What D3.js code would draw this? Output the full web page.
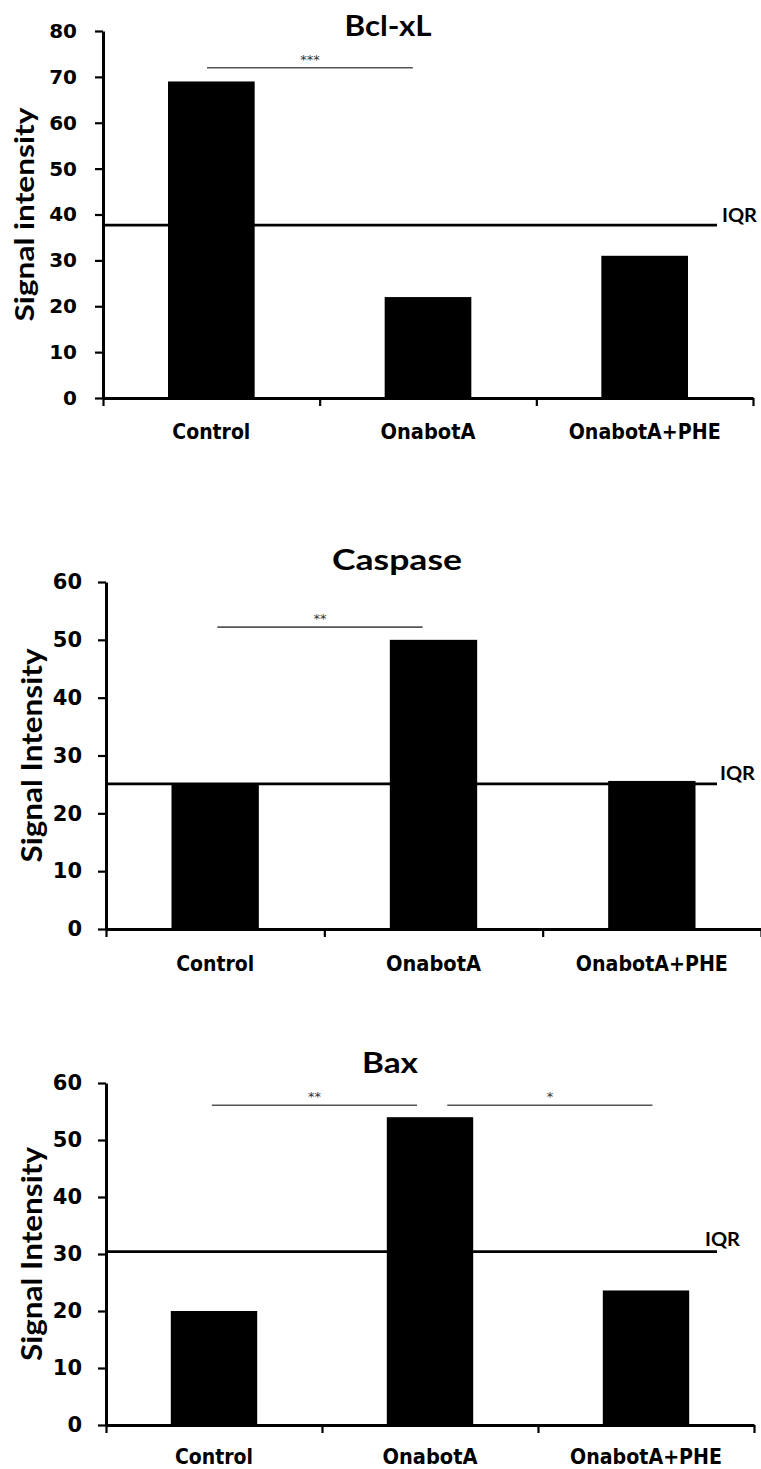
<!DOCTYPE html>
<html>
<head>
<meta charset="utf-8">
<script src="https://cdn.jsdelivr.net/npm/d3@7"></script>
<style>
  html, body { margin: 0; padding: 0; background: #fff; }
  svg { display: block; }
</style>
</head>
<body>
<svg id="fig" width="761" height="1469"></svg>
<script>
// ---- data ----
const categories = ["Control", "OnabotA", "OnabotA+PHE"];
const titles = ["Bcl-xL", "Caspase", "Bax"];
const yLabels = ["Signal intensity", "Signal Intensity", "Signal Intensity"];
const bclValues = [69, 22, 31];
const caspaseValues = [25.2, 50, 25.6];
const baxValues = [20, 54, 23.6];
const iqrValues = [37.7, 25.1, 30.4];
const yMaxes = [80, 60, 60];
const yTicksBcl = [0, 10, 20, 30, 40, 50, 60, 70, 80];
const yTicksCasp = [0, 10, 20, 30, 40, 50, 60];
const yTicksBax = [0, 10, 20, 30, 40, 50, 60];
// significance brackets: [fromIndex, toIndex, level, label]
const sigBcl = [[-0.02, 0.93, 72, "***"]];
const sigCasp = [[0.01, 0.95, 52.2, "**"]];
const sigBax = [[-0.01, 0.94, 56.1, "**"], [1.08, 2.03, 56.1, "*"]];

// ---- layout (pixel frames) ----
const panels = [
  { values: bclValues, ticks: yTicksBcl, sig: sigBcl, x0: 103, x1: 753, yTop: 31, yBot: 398,
    titleY: 36, titleLen: 87, titleX: 388, ylabX: 34, ylabFs: 26, tickPad: 18, xlabOff: 41,
    iqrDx: 5, iqrDy: -3, tickFs: 20 },
  { values: caspaseValues, ticks: yTicksCasp, sig: sigCasp, x0: 106, x1: 761, yTop: 582, yBot: 929,
    titleY: 570, titleLen: 130, titleX: 397, ylabX: 42, ylabFs: 28, tickPad: 16, xlabOff: 42,
    iqrDx: 3, iqrDy: -4, tickFs: 21 },
  { values: baxValues, ticks: yTicksBax, sig: sigBax, x0: 106, x1: 754, yTop: 1083, yBot: 1425,
    titleY: 1073, titleLen: 56, titleX: 390, ylabX: 42, ylabFs: 28, tickPad: 16, xlabOff: 39,
    iqrDx: -12, iqrDy: -6, tickFs: 21 }
];
const iqrLineEnd = 717;
const xLabelLens = [78, 95, 152];

const svg = d3.select("#fig");
const calibri = "Lato, 'Open Sans', sans-serif";
const verdana = "'DejaVu Sans', Verdana, sans-serif";

panels.forEach((p, k) => {
  const g = svg.append("g");
  const x = d3.scaleBand().domain(categories).range([p.x0, p.x1])
    .paddingInner(0.6).paddingOuter(0.3);
  const xi = d3.scaleLinear().domain([-0.5, categories.length - 0.5]).range([p.x0, p.x1]);
  const y = d3.scaleLinear().domain([0, yMaxes[k]]).range([p.yBot, p.yTop]);

  // bars
  g.selectAll("rect.bar").data(p.values).enter().append("rect")
    .attr("class", "bar")
    .attr("x", (d, i) => x(categories[i]))
    .attr("width", x.bandwidth())
    .attr("y", d => y(d))
    .attr("height", d => y(0) - y(d))
    .attr("fill", "#000");

  // IQR line
  g.append("line")
    .attr("x1", p.x0).attr("x2", iqrLineEnd)
    .attr("y1", y(iqrValues[k])).attr("y2", y(iqrValues[k]))
    .attr("stroke", "#000").attr("stroke-width", 2.8);
  g.append("text")
    .attr("x", iqrLineEnd + p.iqrDx).attr("y", y(iqrValues[k]) + p.iqrDy)
    .attr("font-family", calibri).attr("font-weight", 700).attr("font-size", 18)
    .attr("textLength", 35).attr("lengthAdjust", "spacingAndGlyphs")
    .attr("fill", "#000").text("IQR");

  // y axis
  const yAxis = d3.axisLeft(y).tickValues(p.ticks).tickSizeInner(8).tickSizeOuter(0)
    .tickPadding(p.tickPad).tickFormat(d3.format("d"));
  const ya = g.append("g").attr("transform", `translate(${p.x0},0)`).call(yAxis);
  ya.attr("font-size", null).attr("font-family", null);
  ya.select(".domain").attr("stroke", "#000").attr("stroke-width", 3);
  ya.selectAll(".tick line").attr("stroke", "#000").attr("stroke-width", 2.2);
  ya.selectAll(".tick text")
    .style("font-family", verdana).style("font-weight", "700")
    .style("font-size", p.tickFs + "px").attr("fill", "#000");

  // x axis (boundary ticks)
  const xb = d3.scaleLinear().domain([0, categories.length]).range([p.x0, p.x1]);
  const xAxis = d3.axisBottom(xb).tickValues(d3.range(categories.length + 1))
    .tickSizeInner(8).tickSizeOuter(0).tickFormat("");
  const xa = g.append("g").attr("transform", `translate(0,${p.yBot})`).call(xAxis);
  xa.select(".domain").attr("stroke", "#000").attr("stroke-width", 3);
  xa.selectAll(".tick line").attr("stroke", "#000").attr("stroke-width", 2.2);

  // x labels
  g.selectAll("text.xl").data(categories).enter().append("text")
    .attr("class", "xl")
    .attr("x", d => x(d) + x.bandwidth() / 2)
    .attr("y", p.yBot + p.xlabOff)
    .attr("text-anchor", "middle")
    .style("font-family", verdana).style("font-weight", "700").style("font-size", "22px")
    .attr("textLength", (d, i) => xLabelLens[i]).attr("lengthAdjust", "spacingAndGlyphs")
    .attr("fill", "#000").text(d => d);

  // title
  g.append("text")
    .attr("x", p.titleX).attr("y", p.titleY).attr("text-anchor", "middle")
    .attr("font-family", calibri).attr("font-weight", 700).attr("font-size", 28)
    .attr("textLength", p.titleLen).attr("lengthAdjust", "spacingAndGlyphs")
    .attr("fill", "#000").text(titles[k]);

  // y label
  g.append("text")
    .attr("transform", `translate(${p.ylabX},${(y(yMaxes[k]) + y(0)) / 2})` + " rotate(-90)")
    .attr("text-anchor", "middle")
    .attr("font-family", calibri).attr("font-weight", 700).attr("font-size", p.ylabFs)
    .attr("textLength", 214).attr("lengthAdjust", "spacingAndGlyphs")
    .attr("fill", "#000").text(yLabels[k]);

  // significance
  p.sig.forEach(s => {
    const yy = y(s[2]);
    g.append("line")
      .attr("x1", xi(s[0])).attr("x2", xi(s[1]))
      .attr("y1", yy).attr("y2", yy)
      .attr("stroke", "#555").attr("stroke-width", 1.6);
    g.append("text")
      .attr("x", (xi(s[0]) + xi(s[1])) / 2).attr("y", yy - 4)
      .attr("text-anchor", "middle")
      .attr("font-family", verdana).attr("font-size", 13)
      .attr("fill", "#333").text(s[3]);
  });
});
</script>
</body>
</html>
